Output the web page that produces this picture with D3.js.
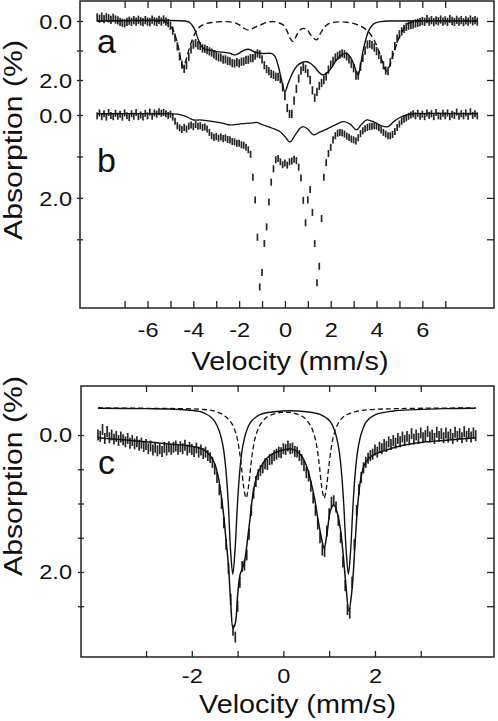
<!DOCTYPE html>
<html><head><meta charset="utf-8">
<script src="https://cdn.jsdelivr.net/npm/d3@7"></script>
<style>
body{margin:0;background:#fff}
svg{display:block}
text{font-family:"Liberation Sans",Arial,Helvetica,sans-serif;fill:#111}
</style>
</head><body>
<svg id="chart" width="498" height="721"></svg>
<script>
// ---------- DATA ----------
// channel grid of panels a and b (mm/s)
const topVelStart = -8.2, topVelStep = 0.1;
// panel a: measured absorption (%)
const aAbs = [
 -0.12,-0.08,-0.15,-0.06,-0.13,-0.09,-0.04,-0.11,-0.05,-0.02,
 0.03,0.06,0.08,0.03,-0.01,0.03,-0.03,0.02,-0.04,0.01,
 0.04,-0.03,0.02,0.04,-0.05,0.01,0.03,-0.04,0.02,-0.05,
 0.02,0.07,0.16,0.33,0.56,0.86,1.2,1.48,1.62,1.5,
 1.22,0.96,0.8,0.75,0.83,0.85,0.93,0.94,0.99,1.03,
 1.07,1.13,1.19,1.23,1.24,1.31,1.3,1.35,1.37,1.43,
 1.44,1.39,1.44,1.38,1.37,1.32,1.31,1.26,1.26,1.17,
 1.1,1.13,1.3,1.5,1.63,1.7,1.79,1.83,1.89,1.89,
 1.97,2.25,2.55,2.95,3.15,3.15,2.7,2.3,1.95,1.68,
 1.56,1.62,1.77,2.0,2.35,2.6,2.4,2.2,2.1,2.0,
 1.88,1.65,1.48,1.35,1.24,1.18,1.14,1.1,1.13,1.2,
 1.3,1.45,1.6,1.85,1.85,1.55,1.25,1.0,0.8,0.78,
 0.82,0.9,1.02,1.15,1.3,1.5,1.68,1.7,1.4,1.15,
 0.85,0.6,0.45,0.35,0.27,0.2,0.16,0.13,0.12,0.08,
 0.06,0.04,0.0,0.03,-0.06,0.02,-0.03,0.04,-0.02,0.01,
 -0.05,0.02,-0.02,0.03,-0.07,0.0,0.03,-0.04,0.02,-0.03,
 0.04,-0.02,0.02,-0.05,0.01,-0.03,0.02
];
const aErr = 0.14;
// panel b: measured absorption (%)
const bAbs = [
 0.02,-0.05,0.04,-0.03,0.05,-0.06,0.01,0.04,-0.04,0.03,
 -0.02,0.05,-0.05,0.02,0.06,-0.03,0.03,-0.06,0.04,0.0,
 0.05,-0.04,0.02,-0.07,0.03,-0.05,-0.02,-0.08,-0.04,-0.06,
 -0.03,0.01,-0.02,0.05,0.15,0.26,0.31,0.35,0.3,0.34,
 0.27,0.24,0.28,0.23,0.27,0.26,0.3,0.29,0.34,0.42,
 0.5,0.54,0.52,0.56,0.53,0.57,0.55,0.59,0.6,0.64,
 0.65,0.68,0.68,0.72,0.73,0.78,0.84,0.95,1.5,2.05,
 2.95,4.15,3.8,3.1,2.7,2.1,1.62,1.3,1.08,1.05,
 1.13,1.2,1.16,1.21,1.13,1.11,1.07,1.1,1.26,1.52,
 2.06,2.6,2.05,1.8,2.35,3.1,4.05,3.65,2.5,1.5,
 1.15,0.93,0.78,0.6,0.5,0.44,0.42,0.43,0.46,0.51,
 0.54,0.58,0.6,0.63,0.55,0.45,0.38,0.33,0.3,0.28,
 0.27,0.26,0.27,0.31,0.36,0.42,0.46,0.5,0.5,0.47,
 0.4,0.3,0.22,0.15,0.1,0.07,0.03,0.0,-0.03,0.02,
 -0.04,0.03,-0.02,0.04,-0.05,0.01,-0.03,0.04,-0.06,0.02,
 0.03,-0.04,0.02,-0.05,0.04,-0.02,0.01,-0.07,0.03,-0.03,
 0.02,-0.05,0.03,-0.08,0.01,-0.03,0.02
];
const bErr = 0.085;
// panel a fitted subspectra [velocity, absorption]
const aFitSolid = [[-8.2,0.0],[-4.3,0.01],[-4.15,0.06],[-4.03,0.17],[-3.93,0.31],[-3.82,0.55],[-3.71,0.76],[-3.6,0.9],[-3.49,0.96],[-3.2,1.0],[-2.95,1.04],[-2.55,1.07],[-2.35,1.11],[-2.18,1.15],[-2.02,1.1],[-1.89,1.04],[-1.75,0.98],[-1.6,0.96],[-1.45,1.0],[-1.3,1.06],[-0.95,1.1],[-0.6,1.1],[-0.45,1.18],[-0.3,1.5],[-0.15,2.0],[0.0,2.4],[0.14,2.12],[0.29,1.83],[0.45,1.6],[0.6,1.47],[0.8,1.39],[0.95,1.38],[1.12,1.44],[1.31,1.57],[1.5,1.75],[1.67,1.83],[1.85,1.75],[2.04,1.58],[2.25,1.32],[2.48,1.15],[2.69,1.1],[2.85,1.22],[3.0,1.45],[3.12,1.72],[3.2,1.83],[3.3,1.5],[3.42,0.98],[3.54,0.6],[3.64,0.36],[3.78,0.17],[3.93,0.07],[4.2,0.02],[4.6,0.0],[8.4,0.0]];
const aFitDashed = [[-8.2,0.0],[-5.4,0.01],[-5.2,0.04],[-5.05,0.12],[-4.95,0.22],[-4.88,0.31],[-4.77,0.55],[-4.66,0.87],[-4.55,1.3],[-4.44,1.58],[-4.33,1.35],[-4.24,1.1],[-4.15,0.87],[-4.04,0.62],[-3.93,0.42],[-3.82,0.28],[-3.71,0.19],[-3.5,0.1],[-3.2,0.05],[-2.9,0.03],[-2.55,0.02],[-2.2,0.06],[-1.97,0.14],[-1.8,0.24],[-1.6,0.31],[-1.4,0.25],[-1.2,0.17],[-1.09,0.14],[-0.8,0.05],[-0.51,0.02],[-0.25,0.07],[-0.07,0.14],[0.1,0.35],[0.22,0.58],[0.36,0.7],[0.5,0.5],[0.63,0.32],[0.8,0.25],[0.97,0.3],[1.15,0.5],[1.38,0.64],[1.55,0.42],[1.72,0.22],[1.85,0.12],[2.1,0.05],[2.5,0.03],[2.98,0.08],[3.3,0.17],[3.57,0.31],[3.8,0.52],[4.0,0.82],[4.2,1.25],[4.35,1.6],[4.45,1.7],[4.58,1.5],[4.73,1.12],[4.88,0.8],[5.02,0.5],[5.17,0.3],[5.31,0.12],[5.5,0.05],[5.8,0.01],[8.4,0.0]];
// panel b fitted curve
const bFitSolid = [[-8.2,-0.03],[-5.0,-0.03],[-4.7,-0.02],[-4.3,0.04],[-4.0,0.12],[-3.71,0.12],[-3.13,0.16],[-2.7,0.2],[-2.4,0.24],[-2.0,0.22],[-1.7,0.2],[-1.4,0.19],[-1.24,0.18],[-1.05,0.22],[-0.8,0.27],[-0.55,0.32],[-0.22,0.4],[0.0,0.52],[0.22,0.65],[0.45,0.48],[0.66,0.32],[0.8,0.28],[1.0,0.34],[1.24,0.48],[1.5,0.42],[1.82,0.34],[2.2,0.24],[2.55,0.16],[2.85,0.22],[3.13,0.36],[3.35,0.22],[3.57,0.12],[3.8,0.15],[4.0,0.2],[4.25,0.27],[4.51,0.28],[4.75,0.16],[5.02,0.06],[5.31,0.0],[5.6,-0.03],[8.4,-0.03]];

// panel c channel grid (mm/s) and measured absorption (%)
const cVelStart = -4.05, cVelStep = 0.05;
const cAbs = [
 0.0,0.02,-0.08,0.05,-0.05,0.04,0.0,0.06,0.02,0.08,
 0.03,0.07,0.1,0.05,0.12,0.08,0.13,0.1,0.15,0.12,
 0.17,0.14,0.2,0.16,0.22,0.18,0.23,0.2,0.24,0.18,
 0.22,0.17,0.21,0.18,0.16,0.21,0.17,0.2,0.15,0.22,
 0.18,0.21,0.24,0.19,0.25,0.22,0.27,0.25,0.3,0.33,
 0.4,0.5,0.62,0.8,1.0,1.28,1.6,1.95,2.4,2.85,
 2.95,2.5,2.15,1.92,1.9,1.75,1.45,1.1,0.85,0.68,
 0.58,0.52,0.48,0.42,0.43,0.36,0.35,0.3,0.28,0.25,
 0.26,0.2,0.21,0.16,0.2,0.19,0.24,0.25,0.3,0.36,
 0.45,0.55,0.6,0.75,0.92,1.1,1.3,1.5,1.68,1.7,
 1.4,1.15,0.98,0.96,1.05,1.25,1.5,1.85,2.2,2.55,
 2.6,2.15,1.6,1.1,0.8,0.62,0.48,0.4,0.34,0.3,
 0.28,0.22,0.25,0.18,0.2,0.14,0.17,0.1,0.14,0.08,
 0.12,0.05,0.1,0.03,0.08,0.02,0.07,-0.02,0.06,0.0,
 0.05,-0.03,0.04,0.01,-0.05,0.03,0.0,0.05,-0.04,0.02,
 -0.02,0.04,-0.03,0.03,-0.01,0.05,-0.04,0.02,-0.02,0.04,
 -0.05,0.02,-0.02,0.03,-0.03,0.01
];
const cErr = 0.08;
const cFitTotal = [[-4.05,0.04],[-3.5,0.07],[-3.0,0.1],[-2.5,0.13],[-2.04,0.16],[-1.75,0.21],[-1.6,0.3],[-1.5,0.42],[-1.42,0.62],[-1.35,0.92],[-1.3,1.2],[-1.25,1.55],[-1.2,1.9],[-1.15,2.45],[-1.1,2.82],[-1.05,2.75],[-1.0,2.35],[-0.95,2.05],[-0.9,1.95],[-0.85,1.85],[-0.8,1.62],[-0.73,1.23],[-0.66,0.84],[-0.58,0.6],[-0.48,0.45],[-0.36,0.34],[-0.2,0.26],[0.0,0.22],[0.15,0.2],[0.3,0.24],[0.42,0.33],[0.52,0.48],[0.6,0.68],[0.68,0.92],[0.76,1.25],[0.83,1.5],[0.89,1.65],[0.95,1.45],[1.03,1.1],[1.1,1.02],[1.17,1.12],[1.24,1.35],[1.3,1.7],[1.36,2.15],[1.43,2.57],[1.5,2.25],[1.56,1.65],[1.62,1.05],[1.68,0.68],[1.76,0.45],[1.85,0.35],[2.0,0.28],[2.2,0.23],[2.55,0.16],[3.0,0.11],[3.5,0.08],[4.2,0.04]];
const cCompSolid = [[-4.05,-0.39],[-3.0,-0.385],[-2.5,-0.38],[-2.1,-0.365],[-1.8,-0.34],[-1.7,-0.31],[-1.6,-0.27],[-1.5,-0.2],[-1.4,-0.06],[-1.35,0.06],[-1.3,0.24],[-1.25,0.55],[-1.2,1.03],[-1.155,1.67],[-1.105,2.03],[-1.055,1.67],[-1.005,1.03],[-0.955,0.55],[-0.905,0.24],[-0.855,0.06],[-0.805,-0.06],[-0.7,-0.2],[-0.5,-0.3],[-0.2,-0.34],[0.15,-0.355],[0.5,-0.34],[0.8,-0.3],[1.02,-0.2],[1.12,-0.06],[1.17,0.06],[1.22,0.24],[1.27,0.55],[1.32,1.03],[1.37,1.67],[1.42,2.03],[1.47,1.67],[1.52,1.03],[1.57,0.55],[1.62,0.24],[1.67,0.06],[1.72,-0.06],[1.82,-0.2],[2.02,-0.3],[2.4,-0.35],[2.9,-0.37],[3.5,-0.385],[4.2,-0.39]];
const cCompDashed = [[-4.05,-0.395],[-3.0,-0.39],[-2.3,-0.385],[-1.8,-0.375],[-1.5,-0.35],[-1.265,-0.27],[-1.115,-0.155],[-1.015,0.03],[-0.965,0.21],[-0.915,0.47],[-0.865,0.77],[-0.815,0.92],[-0.765,0.77],[-0.715,0.47],[-0.665,0.21],[-0.615,0.04],[-0.515,-0.14],[-0.365,-0.26],[-0.1,-0.325],[0.04,-0.33],[0.2,-0.325],[0.44,-0.26],[0.59,-0.14],[0.69,0.04],[0.74,0.21],[0.79,0.47],[0.84,0.77],[0.89,0.92],[0.94,0.77],[0.99,0.47],[1.04,0.21],[1.09,0.03],[1.19,-0.16],[1.34,-0.28],[1.6,-0.345],[1.9,-0.37],[2.5,-0.385],[3.3,-0.392],[4.2,-0.395]];

// ticks and labels
const topXTicks = [-7,-6,-5,-4,-3,-2,-1,0,1,2,3,4,5,6,7];
const topXLabels = [-6,-4,-2,0,2,4,6];
const aYTicks = [0,1,2];
const bYTicks = [0,1,2,3];
const abYLabels = [0,2];
const cXTicks = [-3,-2,-1,0,1,2,3];
const cXLabels = [-2,0,2];
const cYTicks = [0,0.5,1,1.5,2,2.5];
const cYLabels = [0,2];
const xTitle = "Velocity (mm/s)";
const yTitle = "Absorption (%)";
const panelNames = ["a","b","c"];

// ---------- DRAW ----------
const svg = d3.select("#chart");
svg.append("rect").attr("width",498).attr("height",721).attr("fill","#fff");

const xTop = d3.scaleLinear().domain([-8.95, 9.13]).range([80, 494]);
const yA = d3.scaleLinear().domain([0, 2]).range([21, 80]);
const yB = d3.scaleLinear().domain([0, 3]).range([115, 239.3]);
const xC = d3.scaleLinear().domain([-4.42, 4.6]).range([81, 494]);
const yC = d3.scaleLinear().domain([0, 2]).range([435, 572]);

const topFrame = {x:80, y:1, w:414, h:307};
const botFrame = {x:81, y:386, w:413, h:271};

const defs = svg.append("defs");
defs.append("clipPath").attr("id","clipTop").append("rect")
  .attr("x",topFrame.x).attr("y",topFrame.y).attr("width",topFrame.w).attr("height",topFrame.h);
defs.append("clipPath").attr("id","clipBot").append("rect")
  .attr("x",botFrame.x).attr("y",botFrame.y).attr("width",botFrame.w).attr("height",botFrame.h);

function grid(start, step, n){ return d3.range(n).map(i => +(start + i*step).toFixed(3)); }

function drawBars(g, vels, vals, err, x, y){
  g.append("g").selectAll("line").data(vals).join("line")
    .attr("x1",(d,i)=>x(vels[i])).attr("x2",(d,i)=>x(vels[i]))
    .attr("y1",d=>y(d-err)).attr("y2",d=>y(d+err))
    .attr("stroke","#262626").attr("stroke-width",1.7);
}
function drawLine(g, pts, x, y, dash, w){
  const ln = d3.line().x(d=>x(d[0])).y(d=>y(d[1])).curve(d3.curveCatmullRom.alpha(0.5));
  g.append("path").attr("d", ln(pts)).attr("fill","none")
    .attr("stroke","#111").attr("stroke-width",w||1.4)
    .attr("stroke-dasharray", dash || null);
}

// top panel content
const gTop = svg.append("g").attr("clip-path","url(#clipTop)");
const topVels = grid(topVelStart, topVelStep, aAbs.length);
drawBars(gTop, topVels, aAbs, aErr, xTop, yA);
drawBars(gTop, grid(topVelStart, topVelStep, bAbs.length), bAbs, bErr, xTop, yB);
drawLine(gTop, aFitDashed, xTop, yA, "6,3.5", 1.4);
drawLine(gTop, aFitSolid, xTop, yA, null, 1.4);
drawLine(gTop, bFitSolid, xTop, yB, null, 1.3);

// bottom panel content
const gBot = svg.append("g").attr("clip-path","url(#clipBot)");
drawBars(gBot, grid(cVelStart, cVelStep, cAbs.length), cAbs, cErr, xC, yC);
drawLine(gBot, cCompDashed, xC, yC, "5,3", 1.3);
drawLine(gBot, cCompSolid, xC, yC, null, 1.4);
drawLine(gBot, cFitTotal, xC, yC, null, 1.5);

// frames
[topFrame, botFrame].forEach(f => {
  svg.append("rect").attr("x",f.x).attr("y",f.y).attr("width",f.w).attr("height",f.h)
    .attr("fill","none").attr("stroke","#222").attr("stroke-width",1.5);
});

const tickFont = 20.5;
function styleAxis(g){
  g.select(".domain").remove();
  g.selectAll(".tick line").attr("stroke","#222").attr("stroke-width",1.3);
  g.selectAll(".tick text").attr("font-size",tickFont).attr("fill","#111")
    .attr("font-family","Liberation Sans, Arial, sans-serif").classed("stretch",true);
}
const fmtX = labels => d => labels.includes(d) ? String(d) : "";
const fmtY = labels => d => labels.includes(d) ? d.toFixed(1) : "";

// top panel axes
svg.append("g").attr("transform",`translate(0,${topFrame.y+topFrame.h})`)
  .call(d3.axisBottom(xTop).tickValues(topXTicks).tickSize(-7).tickPadding(14).tickFormat(fmtX(topXLabels)))
  .call(styleAxis);
svg.append("g").attr("transform",`translate(0,${topFrame.y})`)
  .call(d3.axisTop(xTop).tickValues(topXTicks).tickSize(-7).tickFormat(""))
  .call(styleAxis);
[[yA,aYTicks],[yB,bYTicks]].forEach(([ys,tv]) => {
  svg.append("g").attr("transform",`translate(${topFrame.x-3},0)`)
    .call(d3.axisLeft(ys).tickValues(tv).tickSize(-6).tickPadding(5).tickFormat(fmtY(abYLabels)))
    .call(styleAxis)
    .selectAll(".tick text").attr("dy","0.36em");
  svg.append("g").attr("transform",`translate(${topFrame.x+topFrame.w},0)`)
    .call(d3.axisRight(ys).tickValues(tv).tickSize(-7).tickFormat(""))
    .call(styleAxis);
});

// bottom panel axes
svg.append("g").attr("transform",`translate(0,${botFrame.y+botFrame.h})`)
  .call(d3.axisBottom(xC).tickValues(cXTicks).tickSize(-6).tickPadding(11).tickFormat(fmtX(cXLabels)))
  .call(styleAxis);
svg.append("g").attr("transform",`translate(0,${botFrame.y})`)
  .call(d3.axisTop(xC).tickValues(cXTicks).tickSize(-6).tickFormat(""))
  .call(styleAxis);
svg.append("g").attr("transform",`translate(${botFrame.x-3},0)`)
  .call(d3.axisLeft(yC).tickValues(cYTicks).tickSize(-6).tickPadding(6).tickFormat(fmtY(cYLabels)))
  .call(styleAxis);
svg.append("g").attr("transform",`translate(${botFrame.x+botFrame.w},0)`)
  .call(d3.axisRight(yC).tickValues(cYTicks).tickSize(-7).tickFormat(""))
  .call(styleAxis);

// titles
const titleFont = 25.5;
function addText(x, y, txt, size, anchor, rot, len){
  const t = svg.append("text").attr("font-size",size).attr("text-anchor",anchor)
    .attr("transform", `translate(${x},${y})` + (rot ? ` rotate(${rot})` : "")).text(txt);
  if (len) t.attr("textLength",len).attr("lengthAdjust","spacingAndGlyphs");
  return t;
}
addText(290, 370, xTitle, titleFont, "middle", 0, 197);
addText(297.5, 713, xTitle, titleFont, "middle", 0, 197);
addText(22, 140, yTitle, titleFont, "middle", -90, 200);
addText(22, 476, yTitle, titleFont, "middle", -90, 200);

// panel letters
addText(97, 53, panelNames[0], 34, "start", 0, null);
addText(97, 172, panelNames[1], 34, "start", 0, null);
addText(98, 474, panelNames[2], 34, "start", 0, null);

// widen tick labels to the reference glyph widths
svg.selectAll("text.stretch").each(function(){
  const L = this.getComputedTextLength();
  if (L > 0){ this.setAttribute("textLength", (L*1.15).toFixed(1)); this.setAttribute("lengthAdjust","spacingAndGlyphs"); }
});
</script>
</body></html>
